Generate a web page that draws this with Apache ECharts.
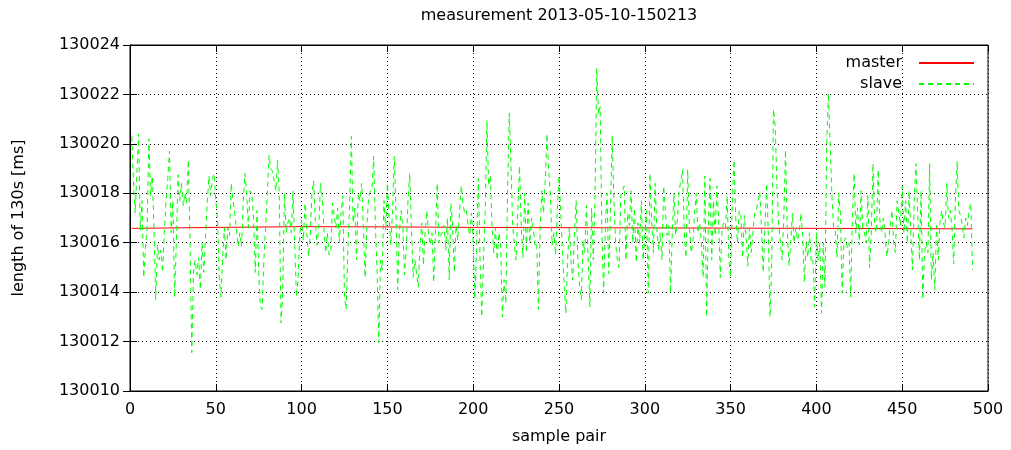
<!DOCTYPE html>
<html><head><meta charset="utf-8">
<script src="https://cdn.jsdelivr.net/npm/echarts@6/dist/echarts.min.js"></script>
<style>html,body{margin:0;padding:0;background:#fff}#c{width:1011px;height:450px}</style>
</head><body><div id="c"></div>
<script>
const chartTitle = 'measurement 2013-05-10-150213';
const xName = 'sample pair';
const yName = 'length of 130s [ms]';
const seriesNames = ['master', 'slave'];

// slave: samples 1..491, ten per row
const slave = [
130020.3,130018.5,130017.2,130018.8,130020.4,130016.5,130017.7,130014.6,130015.8,130016.7,
130020.2,130017.9,130018.7,130016.5,130013.7,130015.9,130015.3,130015.7,130014.8,130016.4,
130017.7,130018.6,130019.7,130016.4,130017.7,130013.8,130016.0,130018.75,130017.7,130018.4,
130017.5,130018.0,130017.6,130019.35,130016.0,130011.55,130014.8,130015.3,130014.7,130015.4,
130014.1,130016.0,130014.8,130016.2,130017.6,130018.7,130017.9,130018.6,130018.8,130017.7,
130017.0,130014.6,130013.8,130015.4,130016.6,130015.3,130016.6,130016.3,130018.4,130017.7,
130017.2,130016.6,130015.85,130016.4,130015.85,130017.7,130018.8,130018.0,130016.6,130018.1,
130018.0,130017.0,130014.8,130017.3,130014.8,130013.4,130013.3,130015.3,130016.6,130018.0,
130019.55,130019.0,130018.9,130018.5,130018.1,130019.35,130017.9,130012.75,130014.0,130018.0,
130016.4,130016.8,130017.0,130016.4,130018.1,130015.9,130013.8,130014.6,130016.4,130016.9,
130016.1,130017.6,130016.4,130015.45,130016.2,130018.0,130018.5,130016.9,130015.9,130016.6,
130018.4,130017.9,130016.6,130015.6,130016.4,130015.5,130015.6,130017.6,130017.1,130016.6,
130017.4,130016.0,130017.2,130017.9,130013.8,130013.3,130015.8,130017.6,130020.3,130016.8,
130017.4,130015.3,130018.0,130017.7,130018.4,130016.6,130014.6,130016.6,130017.8,130018.1,
130018.2,130019.5,130016.7,130014.8,130011.95,130015.3,130014.9,130017.7,130016.5,130018.4,
130017.0,130015.9,130017.3,130019.5,130017.3,130014.1,130016.5,130017.3,130016.6,130014.7,
130015.8,130017.7,130018.8,130016.6,130014.6,130015.3,130015.3,130014.2,130015.9,130016.8,
130015.1,130016.4,130017.3,130016.3,130015.9,130016.4,130014.4,130016.4,130018.4,130016.0,
130016.3,130016.4,130016.7,130015.7,130017.0,130014.5,130017.6,130016.7,130014.8,130016.7,
130016.1,130017.2,130018.3,130017.6,130017.2,130017.3,130016.7,130016.3,130017.2,130016.0,
130013.7,130015.9,130018.6,130015.3,130013.0,130015.3,130017.3,130020.95,130018.3,130018.7,
130016.6,130015.6,130016.6,130015.3,130016.4,130015.9,130013.0,130014.5,130013.55,130018.0,
130021.25,130019.2,130016.7,130015.9,130015.3,130017.3,130019.1,130016.6,130015.4,130018.0,
130015.6,130017.6,130016.0,130017.0,130016.6,130015.9,130016.0,130013.3,130016.6,130018.1,
130017.2,130018.6,130020.4,130018.9,130017.9,130015.9,130016.4,130015.5,130017.3,130018.7,
130017.3,130015.6,130014.3,130013.15,130015.3,130016.6,130015.3,130014.5,130016.3,130017.7,
130015.3,130014.2,130013.7,130016.1,130015.6,130017.5,130015.3,130013.4,130017.4,130015.3,
130017.9,130023.05,130021.2,130021.5,130016.3,130013.96,130016.6,130018.0,130014.75,130017.3,
130020.35,130017.7,130016.0,130015.3,130015.0,130017.9,130017.9,130018.3,130015.3,130017.2,
130016.7,130018.1,130016.0,130017.4,130015.2,130016.8,130016.0,130017.7,130015.3,130016.3,
130017.3,130013.96,130018.8,130016.9,130015.6,130018.4,130016.6,130015.7,130016.4,130015.3,
130018.3,130017.3,130016.3,130016.7,130013.96,130016.4,130018.0,130016.3,130016.9,130018.1,
130018.5,130018.95,130016.4,130015.4,130018.95,130016.6,130015.6,130016.0,130017.2,130018.0,
130016.4,130016.8,130016.0,130014.6,130018.7,130013.0,130016.6,130018.6,130015.3,130017.7,
130016.3,130018.3,130017.0,130014.6,130016.6,130016.8,130016.6,130017.9,130015.3,130014.6,
130017.7,130019.35,130017.0,130016.0,130017.3,130017.1,130015.4,130017.1,130016.3,130015.05,
130016.6,130015.6,130015.6,130017.2,130017.3,130017.3,130018.05,130016.6,130014.8,130016.6,
130018.4,130016.3,130013.0,130015.3,130021.4,130020.7,130018.3,130016.8,130016.0,130015.3,
130017.0,130019.75,130016.6,130015.05,130015.9,130017.2,130016.0,130016.6,130016.1,130016.4,
130017.2,130016.3,130014.4,130016.0,130015.4,130016.4,130015.2,130015.3,130013.4,130016.4,
130015.3,130016.0,130013.15,130016.0,130014.2,130020.0,130022.05,130020.0,130018.0,130016.6,
130016.5,130015.4,130018.0,130017.2,130013.96,130016.0,130016.2,130015.8,130016.0,130013.8,
130017.1,130018.8,130016.4,130017.4,130015.9,130018.1,130016.6,130016.4,130016.0,130017.9,
130015.0,130016.4,130019.2,130016.6,130016.4,130018.95,130016.9,130016.4,130017.0,130016.4,
130015.45,130015.9,130016.7,130017.3,130016.0,130015.6,130017.7,130017.2,130016.7,130018.3,
130016.4,130017.7,130016.0,130018.1,130016.4,130014.9,130017.7,130019.2,130017.3,130015.3,
130018.1,130013.7,130015.6,130016.0,130015.6,130019.2,130014.5,130015.6,130014.1,130016.7,
130015.3,130016.8,130017.3,130016.8,130016.6,130018.4,130017.0,130017.3,130016.6,130015.15,
130017.7,130019.3,130017.3,130017.1,130016.7,130016.2,130017.0,130016.7,130017.3,130017.6,
130014.9
];

const masterSamples = [1, 50, 100, 150, 200, 250, 300, 350, 400, 450, 491];
const masterValues = [130016.58, 130016.62, 130016.65, 130016.64, 130016.62, 130016.61, 130016.60, 130016.59, 130016.58, 130016.57, 130016.56];

const xMin = 0, xMax = 500, xStep = 50;
const yMin = 130010, yMax = 130024, yStep = 2;

const FONT = '"DejaVu Sans", sans-serif';
const FS = 16;
const chart = echarts.init(document.getElementById('c'), null, {renderer: 'canvas'});

const tickStyle = {inside: true, length: 7, lineStyle: {color: '#000', width: 1}};
const axisLineStyle = {show: true, lineStyle: {color: '#000', width: 1}};
const gridLine = {show: true, lineStyle: {color: '#000', width: 1, type: [1, 3]}};

chart.setOption({
  animation: false,
  backgroundColor: '#fff',
  textStyle: {fontFamily: FONT},
  title: {
    text: chartTitle, left: 559, top: 8, padding: 0, textAlign: 'center',
    textStyle: {fontFamily: FONT, fontSize: FS, fontWeight: 'normal', color: '#000'}
  },
  legend: {
    data: seriesNames, orient: 'vertical', right: 36, top: 55, align: 'right',
    itemWidth: 55, itemHeight: 14, itemGap: 5, padding: 0,
    itemStyle: {opacity: 0},
    textStyle: {fontFamily: FONT, fontSize: FS, color: '#000', padding: [0, 12, 0, 0], width: 70, align: 'right'}
  },
  grid: {left: 130, right: 23, top: 45, bottom: 58, show: true, borderColor: '#000', borderWidth: 1, backgroundColor: 'transparent'},
  xAxis: [{
    type: 'value', min: xMin, max: xMax, interval: xStep, position: 'bottom',
    axisLine: axisLineStyle, axisTick: tickStyle, splitLine: gridLine,
    axisLabel: {color: '#000', fontSize: FS, fontFamily: FONT, margin: 11},
    name: xName, nameLocation: 'middle', nameGap: 38,
    nameTextStyle: {color: '#000', fontSize: FS, fontFamily: FONT}
  }, {
    type: 'value', min: xMin, max: xMax, interval: xStep, position: 'top',
    axisLine: axisLineStyle, axisTick: tickStyle, splitLine: {show: false}, axisLabel: {show: false}
  }],
  yAxis: [{
    type: 'value', min: yMin, max: yMax, interval: yStep, position: 'left',
    axisLine: axisLineStyle, axisTick: tickStyle, splitLine: gridLine,
    axisLabel: {color: '#000', fontSize: FS, fontFamily: FONT, margin: 10, formatter: v => String(v)},
    name: yName, nameLocation: 'middle', nameGap: 103,
    nameTextStyle: {color: '#000', fontSize: FS, fontFamily: FONT}
  }, {
    type: 'value', min: yMin, max: yMax, interval: yStep, position: 'right',
    axisLine: axisLineStyle, axisTick: tickStyle, splitLine: {show: false}, axisLabel: {show: false}
  }],
  series: [{
    name: seriesNames[0], type: 'line', symbol: 'none', xAxisIndex: 0, yAxisIndex: 0,
    itemStyle: {color: '#ff0000'},
    lineStyle: {color: '#ff0000', width: 1},
    data: masterSamples.map((s, i) => [s, masterValues[i]])
  }, {
    name: seriesNames[1], type: 'line', symbol: 'none', xAxisIndex: 0, yAxisIndex: 0,
    itemStyle: {color: '#00ff00'},
    lineStyle: {color: '#00ff00', width: 1, type: [5, 4]},
    data: slave.map((v, i) => [i + 1, v])
  }]
});
</script></body></html>
